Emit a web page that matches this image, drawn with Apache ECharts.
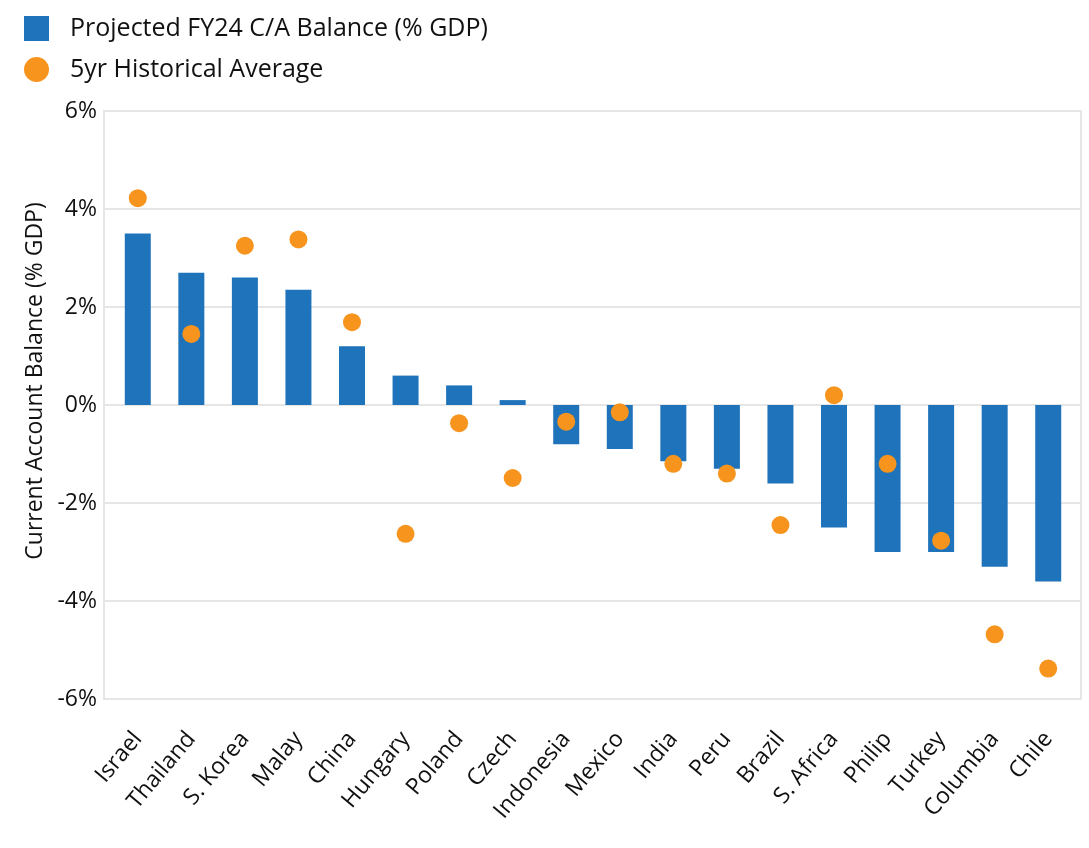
<!DOCTYPE html>
<html>
<head>
<meta charset="utf-8">
<script src="https://cdn.jsdelivr.net/npm/echarts@6/dist/echarts.min.js"></script>
<style>
  html, body { margin: 0; padding: 0; background: #fff; }
  #chart { width: 1089px; height: 848px; }
</style>
</head>
<body>
<div id="chart"></div>
<script>
// categories
var countries = ["Israel", "Thailand", "S. Korea", "Malay", "China", "Hungary", "Poland", "Czech",
  "Indonesia", "Mexico", "India", "Peru", "Brazil", "S. Africa", "Philip", "Turkey", "Columbia", "Chile"];
// projected FY24 current account balance (% GDP)
var projected = [3.5, 2.7, 2.6, 2.35, 1.2, 0.6, 0.4, 0.1, -0.8, -0.9, -1.15, -1.3, -1.6, -2.5, -3.0, -3.0, -3.3, -3.6];
// 5yr historical average
var historical = [4.22, 1.45, 3.25, 3.38, 1.69, -2.63, -0.37, -1.49, -0.34, -0.15, -1.2, -1.4, -2.45, 0.2, -1.2, -2.77, -4.68, -5.38];
// y ticks
var yMin = -6, yMax = 6, yStep = 2;

var FONT = "Open Sans";
var chart = echarts.init(document.getElementById("chart"));

chart.setOption({
  animation: false,
  textStyle: { fontFamily: FONT },
  legend: {
    orient: "vertical",
    left: 24,
    top: 16,
    padding: 0,
    itemWidth: 25,
    itemHeight: 25,
    itemGap: 16,
    textStyle: { fontSize: 25, lineHeight: 25, color: "#111", fontFamily: FONT, padding: [0, 0, 0, 16] },
    data: [
      { name: "Projected FY24 C/A Balance (% GDP)", icon: "rect" },
      { name: "5yr Historical Average", icon: "circle" }
    ]
  },
  grid: [
    // data area (categories sit a bit inside the frame)
    { left: 111, right: 14, top: 111, bottom: 149 },
    // outer frame with the gridlines and y labels
    { left: 104, right: 8, top: 111, bottom: 149, show: true, borderColor: "#e6e6e6", borderWidth: 2 }
  ],
  xAxis: [
    {
      type: "category",
      gridIndex: 0,
      data: countries,
      axisLine: { show: false },
      axisTick: { show: false },
      axisLabel: {
        rotate: 50,
        interval: 0,
        margin: 36,
        fontSize: 23,
        color: "#111",
        fontFamily: FONT
      }
    },
    { type: "value", gridIndex: 1, show: false }
  ],
  yAxis: [
    {
      type: "value",
      gridIndex: 0,
      min: yMin,
      max: yMax,
      interval: yStep,
      show: false
    },
    {
      type: "value",
      gridIndex: 1,
      min: yMin,
      max: yMax,
      interval: yStep,
      name: "Current Account Balance (% GDP)",
      nameLocation: "middle",
      nameGap: 57,
      nameTextStyle: { fontSize: 23, color: "#111", fontFamily: FONT, padding: [0, 0, 0, 48] },
      axisLine: { show: false },
      axisTick: { show: false },
      axisLabel: {
        formatter: "{value}%",
        fontSize: 23,
        color: "#111",
        margin: 7,
        fontFamily: FONT
      },
      splitLine: { show: true, lineStyle: { color: "#e6e6e6", width: 2 } }
    }
  ],
  series: [
    {
      name: "Projected FY24 C/A Balance (% GDP)",
      type: "bar",
      xAxisIndex: 0,
      yAxisIndex: 0,
      data: projected,
      barWidth: 26,
      itemStyle: { color: "#1f73ba" }
    },
    {
      name: "5yr Historical Average",
      type: "scatter",
      xAxisIndex: 0,
      yAxisIndex: 0,
      data: historical,
      symbolSize: 18,
      z: 5,
      itemStyle: { color: "#f7941d", opacity: 1 }
    }
  ]
});
</script>
</body>
</html>
